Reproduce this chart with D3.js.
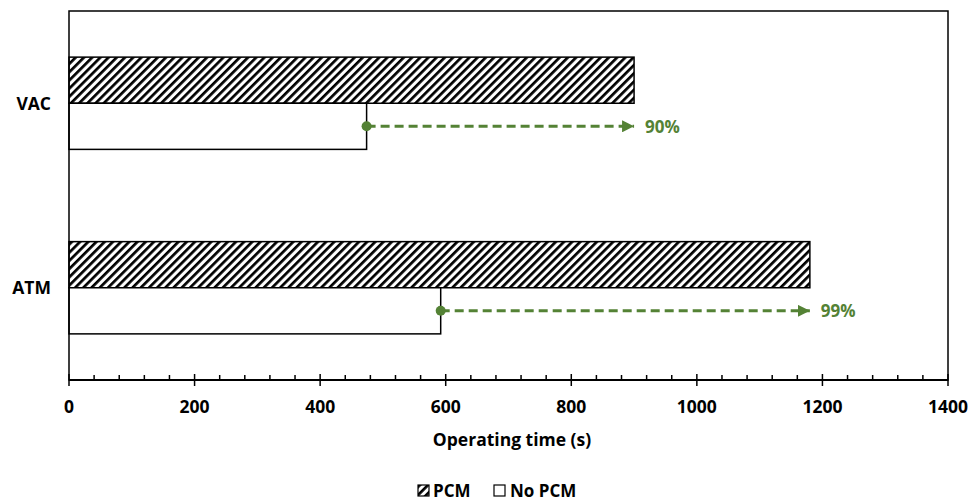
<!DOCTYPE html>
<html>
<head>
<meta charset="utf-8">
<script src="https://cdn.jsdelivr.net/npm/d3@7"></script>
<style>
  body { margin: 0; background: #fff; }
  svg text { font-family: "Open Sans", Lato, sans-serif; font-weight: 700; }
</style>
</head>
<body>
<svg id="chart" width="973" height="501"></svg>
<script>
// Operating time per test condition, with and without phase change material
const categories = ["VAC", "ATM"];
const seriesNames = ["PCM", "No PCM"];
const pcmValues = [900, 1180];
const noPcmValues = [474, 592];
const increaseLabels = ["90%", "99%"];
const xTicks = [0, 200, 400, 600, 800, 1000, 1200, 1400];

const svg = d3.select("#chart");
const margin = { left: 69, right: 25, top: 11, bottom: 121 };
const W = 973, H = 501;
const green = "#548235";

const x = d3.scaleLinear().domain([0, 1400]).range([margin.left, W - margin.right]);
const y = d3.scaleBand().domain(categories).range([margin.top, H - margin.bottom]).paddingInner(0).paddingOuter(0);
const sub = d3.scaleBand().domain(seriesNames).range([0, y.bandwidth()]).paddingOuter(1);

const defs = svg.append("defs");
const pat = defs.append("pattern")
  .attr("id", "hatch").attr("patternUnits", "userSpaceOnUse")
  .attr("width", 5.8).attr("height", 5.8)
  .attr("patternTransform", "rotate(45)");
pat.append("rect").attr("width", 5.8).attr("height", 5.8).attr("fill", "#fff");
pat.append("rect").attr("x", 0).attr("y", 0).attr("width", 2.7).attr("height", 5.8).attr("fill", "#000");

defs.append("marker").attr("id", "arrow")
  .attr("viewBox", "0 0 10 10").attr("refX", 10).attr("refY", 5)
  .attr("markerWidth", 4).attr("markerHeight", 4).attr("markerUnits", "strokeWidth")
  .attr("orient", "auto")
  .append("path").attr("d", "M0,0 L10,5 L0,10 Z").attr("fill", green);

// Bars, dashed increase arrows and percentage labels
const rows = categories.map((c, i) => ({ c, pcm: pcmValues[i], none: noPcmValues[i], label: increaseLabels[i] }));

rows.forEach(r => {
  svg.append("rect")
    .attr("x", x(0)).attr("y", y(r.c) + sub("PCM"))
    .attr("width", x(r.pcm) - x(0)).attr("height", sub.bandwidth())
    .attr("fill", "url(#hatch)").attr("stroke", "#000").attr("stroke-width", 1.5);
  svg.append("rect")
    .attr("x", x(0)).attr("y", y(r.c) + sub("No PCM"))
    .attr("width", x(r.none) - x(0)).attr("height", sub.bandwidth())
    .attr("fill", "#fff").attr("stroke", "#000").attr("stroke-width", 1.5);

  const ay = y(r.c) + sub("No PCM") + sub.bandwidth() / 2;
  svg.append("line")
    .attr("x1", x(r.none)).attr("x2", x(r.pcm))
    .attr("y1", ay).attr("y2", ay)
    .attr("stroke", green).attr("stroke-width", 3)
    .attr("stroke-dasharray", "9,5")
    .attr("marker-end", "url(#arrow)");
  svg.append("circle").attr("cx", x(r.none)).attr("cy", ay).attr("r", 5).attr("fill", green);
  svg.append("text")
    .attr("x", x(r.pcm) + 11).attr("y", ay + 6.5)
    .attr("fill", green).attr("font-size", 17).text(r.label);
});

// Plot frame
svg.append("rect")
  .attr("x", margin.left).attr("y", margin.top)
  .attr("width", W - margin.right - margin.left).attr("height", H - margin.bottom - margin.top)
  .attr("fill", "none").attr("stroke", "#000").attr("stroke-width", 1.5);

// X axis with minor ticks
const axisY = H - margin.bottom;
const minor = d3.range(0, 1401, 40).filter(v => v % 200 !== 0);
const gx = svg.append("g");
gx.append("line").attr("x1", x(0)).attr("x2", x(1400)).attr("y1", axisY).attr("y2", axisY)
  .attr("stroke", "#000").attr("stroke-width", 2);
gx.selectAll("line.maj").data(xTicks).join("line").attr("class", "maj")
  .attr("x1", d => x(d)).attr("x2", d => x(d)).attr("y1", axisY - 6).attr("y2", axisY + 6)
  .attr("stroke", "#000").attr("stroke-width", 1.5);
gx.selectAll("line.min").data(minor).join("line").attr("class", "min")
  .attr("x1", d => x(d)).attr("x2", d => x(d)).attr("y1", axisY - 5).attr("y2", axisY)
  .attr("stroke", "#000").attr("stroke-width", 1.5);
gx.selectAll("text").data(xTicks).join("text")
  .attr("x", d => x(d)).attr("y", 413).attr("text-anchor", "middle")
  .attr("font-size", 17.5).attr("fill", "#000").text(d => d);

svg.append("text").attr("x", 512).attr("y", 446)
  .attr("text-anchor", "middle").attr("font-size", 17.5).text("Operating time (s)");

// Category labels
svg.selectAll("text.cat").data(categories).join("text").attr("class", "cat")
  .attr("x", 51).attr("y", d => y(d) + y.bandwidth() / 2 + 6.5)
  .attr("text-anchor", "end").attr("font-size", 17.5).text(d => d);

// Legend
const lg = svg.append("g").attr("transform", "translate(418,485)");
lg.append("rect").attr("x", 0).attr("y", 0).attr("width", 11).attr("height", 11)
  .attr("fill", "url(#hatch)").attr("stroke", "#000").attr("stroke-width", 1.2);
lg.append("text").attr("x", 15).attr("y", 12).attr("font-size", 17).text(seriesNames[0]);
lg.append("rect").attr("x", 76).attr("y", 0).attr("width", 11).attr("height", 11)
  .attr("fill", "#fff").attr("stroke", "#000").attr("stroke-width", 1.2);
lg.append("text").attr("x", 92).attr("y", 12).attr("font-size", 17).text(seriesNames[1]);
</script>
</body>
</html>
